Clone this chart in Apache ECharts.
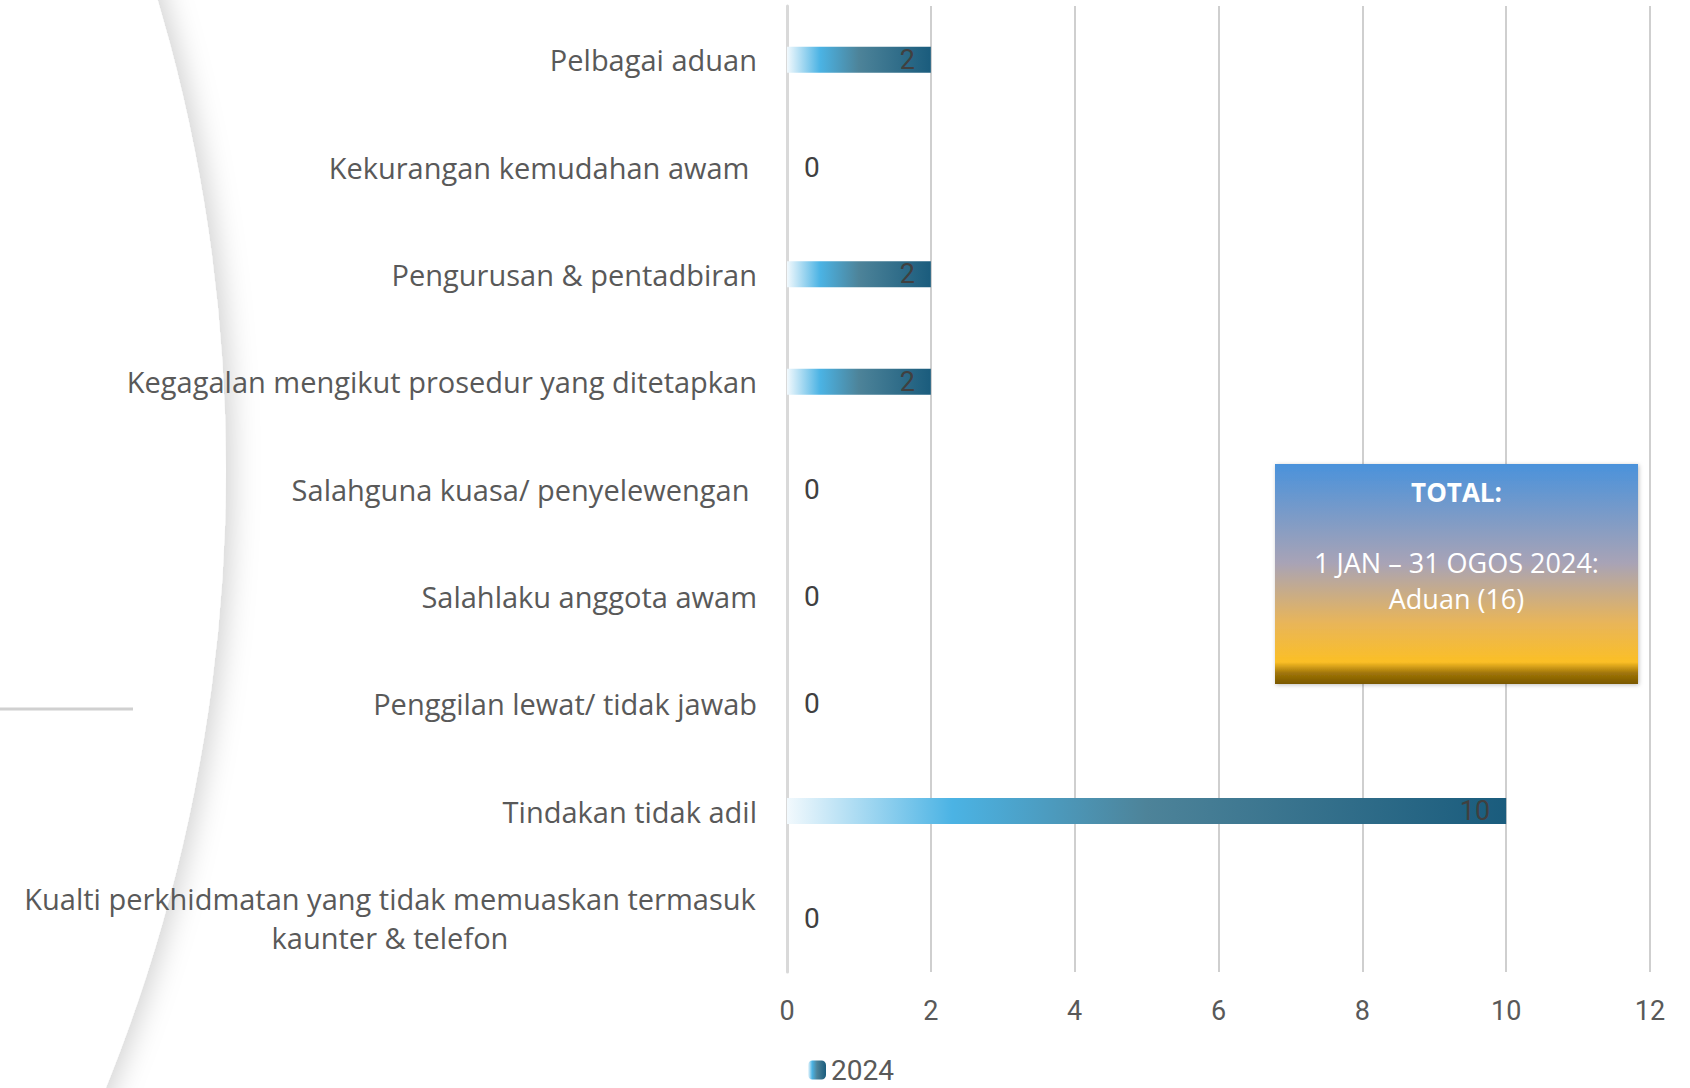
<!DOCTYPE html>
<html>
<head>
<meta charset="utf-8">
<script src="https://cdn.jsdelivr.net/npm/echarts@6/dist/echarts.min.js"></script>
<style>
  html, body { margin: 0; padding: 0; background: #fff; }
  #chart { width: 1690px; height: 1088px; }
</style>
</head>
<body>
<div id="chart"></div>
<script>
  // categories top to bottom
  var categories = [
    'Pelbagai aduan',
    'Kekurangan kemudahan awam ',
    'Pengurusan & pentadbiran',
    'Kegagalan mengikut prosedur yang ditetapkan',
    'Salahguna kuasa/ penyelewengan ',
    'Salahlaku anggota awam',
    'Penggilan lewat/ tidak jawab',
    'Tindakan tidak adil',
    'Kualti perkhidmatan yang tidak memuaskan termasuk\nkaunter & telefon'
  ];
  var values2024 = [2, 0, 2, 2, 0, 0, 0, 10, 0];
  var xTicks = [0, 2, 4, 6, 8, 10, 12];

  var num = "Roboto, 'Noto Sans', sans-serif";
  var sans = "'Open Sans', 'Noto Sans', sans-serif";
  var catFont = 29;

  // width of the longest line, so wrapped lines centre under each other
  var ctx = document.createElement('canvas').getContext('2d');
  ctx.font = catFont + 'px ' + sans;
  function lineWidth(s) { return Math.ceil(ctx.measureText(s).width) + 2; }

  var barColor = {
    type: 'linear', x: 0, y: 0, x2: 1, y2: 0,
    colorStops: [
      { offset: 0, color: '#f2f9fd' },
      { offset: 0.23, color: '#4bb3e4' },
      { offset: 0.5, color: '#4d8399' },
      { offset: 1, color: '#1a5c7d' }
    ]
  };

  var chartDom = document.getElementById('chart');
  var myChart = echarts.init(chartDom, null, { renderer: 'svg' });

  var boxFill = {
    type: 'linear', x: 0, y: 0, x2: 0, y2: 1,
    colorStops: [
      { offset: 0, color: '#4a92db' },
      { offset: 0.45, color: '#a8a3b6' },
      { offset: 0.72, color: '#e8b55a' },
      { offset: 0.9, color: '#fbbf26' },
      { offset: 0.95, color: '#a07508' },
      { offset: 1, color: '#7a5800' }
    ]
  };

  var option = {
    backgroundColor: '#fff',
    animation: false,
    graphic: [
      {
        type: 'circle', z: -10, silent: true,
        shape: { cx: -1424, cy: 470, r: 1650 },
        style: { fill: '#fff', shadowBlur: 28, shadowColor: 'rgba(0,0,0,0.18)', shadowOffsetX: 6 }
      },
      {
        type: 'line', z: -9, silent: true,
        shape: { x1: 0, y1: 709, x2: 133, y2: 709 },
        style: { stroke: '#d0d0d0', lineWidth: 3 }
      },
      {
        type: 'rect', z: 100, silent: true,
        shape: { x: 1275, y: 464, width: 363, height: 220 },
        style: { fill: boxFill, shadowBlur: 4, shadowColor: 'rgba(0,0,0,0.25)', shadowOffsetX: 1, shadowOffsetY: 1 }
      },
      {
        type: 'text', z: 101, x: 1456.5, y: 492,
        style: { text: 'TOTAL:', fill: '#fff', font: 'bold 26px ' + sans, align: 'center', verticalAlign: 'middle' }
      },
      {
        type: 'text', z: 101, x: 1456.5, y: 562,
        style: { text: '1 JAN \u2013 31 OGOS 2024:', fill: '#fff', font: '27px ' + sans, align: 'center', verticalAlign: 'middle' }
      },
      {
        type: 'text', z: 101, x: 1456.5, y: 598,
        style: { text: 'Aduan (16)', fill: '#fff', font: '27px ' + sans, align: 'center', verticalAlign: 'middle' }
      }
    ],
    legend: {
      left: 808, top: 1056, padding: 0,
      itemWidth: 18, itemHeight: 19, itemGap: 8,
      textStyle: { fontFamily: num, fontSize: 28, lineHeight: 26, color: '#595959' },
      data: ['2024']
    },
    grid: { left: 787, right: 40, top: 6, bottom: 116, containLabel: false },
    xAxis: {
      type: 'value', min: 0, max: 12, interval: 2,
      axisLine: { show: false }, axisTick: { show: false },
      axisLabel: {
        margin: 25, fontFamily: num, fontSize: 27, color: '#595959',
        formatter: function (v) { return xTicks.indexOf(v) >= 0 ? String(v) : ''; }
      },
      splitLine: { show: true, lineStyle: { color: '#cfcfcf', width: 2 } }
    },
    yAxis: {
      type: 'category', inverse: true, data: categories,
      axisLine: { show: true, lineStyle: { color: '#d9d9d9', width: 3 } },
      axisTick: { show: false },
      axisLabel: {
        margin: 30, fontFamily: sans, fontSize: catFont, color: '#595959', lineHeight: 39,
        formatter: function (v) {
          if (v.indexOf('\n') >= 0) {
            var lines = v.split('\n');
            var w = Math.max.apply(null, lines.map(lineWidth));
            return lines.map(function (s) { return '{c' + w + '|' + s + '}'; }).join('\n');
          }
          return v;
        },
        rich: (function () {
          var r = {};
          categories.forEach(function (v) {
            if (v.indexOf('\n') >= 0) {
              var w = Math.max.apply(null, v.split('\n').map(lineWidth));
              r['c' + w] = { width: w, align: 'center', fontFamily: sans, fontSize: catFont, color: '#595959', lineHeight: 39 };
            }
          });
          return r;
        })()
      }
    },
    series: [
      {
        name: '2024',
        type: 'bar',
        barWidth: 26,
        itemStyle: { color: barColor },
        label: {
          show: true, position: 'insideRight', distance: 16,
          fontFamily: num, fontSize: 27, color: '#404040'
        },
        data: values2024.map(function (v) {
          if (v === 0) {
            return { value: v, label: { position: 'right', distance: 17, fontSize: 28 } };
          }
          return v;
        })
      }
    ]
  };

  option && myChart.setOption(option);
</script>
</body>
</html>
